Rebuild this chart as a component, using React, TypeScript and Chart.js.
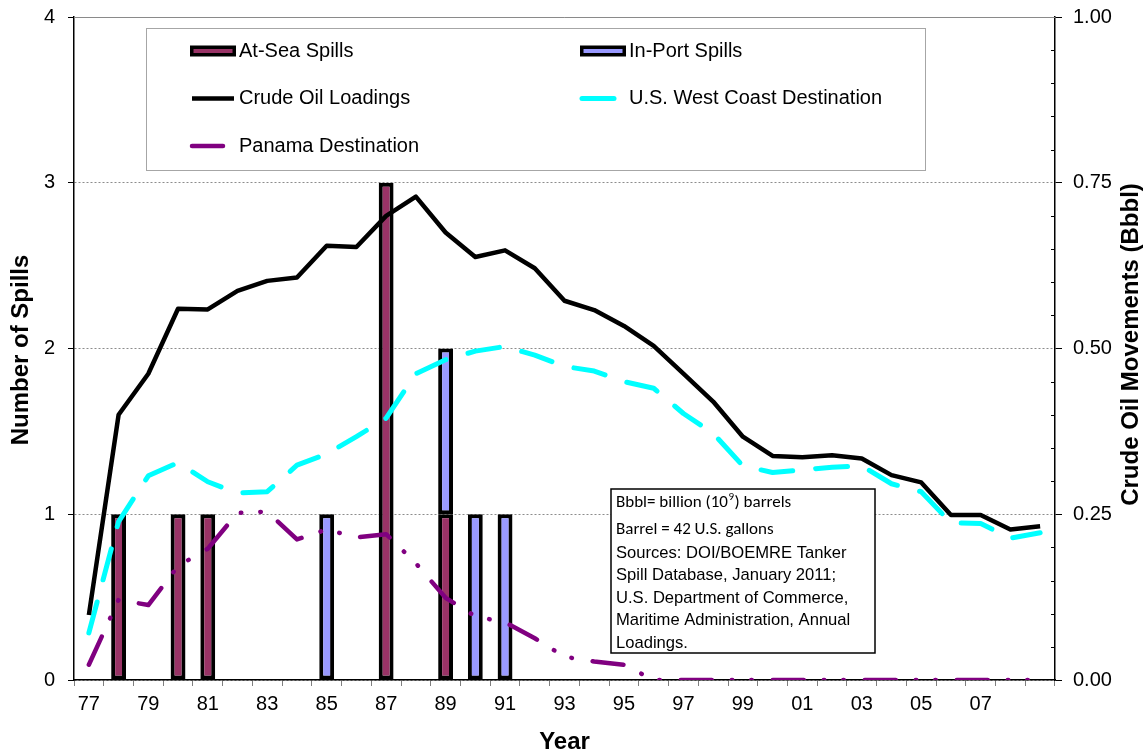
import React, { useEffect, useRef } from 'react';
import { Chart, registerables } from 'chart.js';

Chart.register(...registerables);

// ---------------- data ----------------
const years = [
  '77', '78', '79', '80', '81', '82', '83', '84', '85', '86', '87',
  '88', '89', '90', '91', '92', '93', '94', '95', '96', '97', '98',
  '99', '00', '01', '02', '03', '04', '05', '06', '07', '08', '09',
];

const xTickLabels = ['77', '79', '81', '83', '85', '87', '89', '91', '93', '95', '97', '99', '01', '03', '05', '07'];

// Number of spills (left axis)
const atSeaSpills = [
  null, 1, null, 1, 1, null, null, null, null, null, 3,
  null, 1, null, null, null, null, null, null, null, null, null,
  null, null, null, null, null, null, null, null, null, null, null,
];
const inPortSpills = [
  null, null, null, null, null, null, null, null, 1, null, null,
  null, 1, 1, 1, null, null, null, null, null, null, null,
  null, null, null, null, null, null, null, null, null, null, null,
];

// Crude oil movements, Bbbl (right axis)
const crudeOilLoadings = [
  0.098, 0.40, 0.462, 0.56, 0.559, 0.587, 0.602, 0.607, 0.655, 0.653, 0.70,
  0.729, 0.675, 0.638, 0.648, 0.621, 0.572, 0.558, 0.534, 0.504, 0.462, 0.42,
  0.367, 0.338, 0.336, 0.339, 0.334, 0.309, 0.298, 0.249, 0.249, 0.227, 0.232,
];
const westCoastDestination = [
  0.071, 0.239, 0.308, 0.328, 0.299, 0.282, 0.284, 0.324, 0.341, 0.367, 0.395,
  0.462, 0.483, 0.496, 0.503, 0.49, 0.473, 0.466, 0.45, 0.44, 0.402, 0.372,
  0.323, 0.313, 0.317, 0.321, 0.323, 0.296, 0.284, 0.237, 0.236, 0.214, 0.222,
];
const panamaDestination = [
  0.023, 0.121, 0.113, 0.172, 0.198, 0.252, 0.254, 0.212, 0.227, 0.215, 0.22,
  0.176, 0.124, 0.096, 0.087, 0.063, 0.035, 0.028, 0.023, 0, 0, 0,
  0, 0, 0, 0, 0, 0, 0, 0, 0, 0, 0,
];

const seriesLabels = ['At-Sea Spills', 'In-Port Spills', 'Crude Oil Loadings', 'U.S. West Coast Destination', 'Panama Destination'];

const leftAxisTitle = 'Number of Spills';
const rightAxisTitle = 'Crude Oil Movements (Bbbl)';
const xAxisTitle = 'Year';

const noteLine1 = ['Bbbl= billion (10', '9', ') barrels'];
const noteLine2 = 'Barrel = 42 U.S. gallons';
const noteSources = [
  'Sources: DOI/BOEMRE Tanker',
  'Spill Database, January 2011;',
  'U.S. Department of Commerce,',
  'Maritime Administration, Annual',
  'Loadings.',
];

// ---------------- styling ----------------
const SANS = "'Liberation Sans', Arial, Helvetica, sans-serif";
const CALIBRI = "Carlito, Lato, 'Open Sans', sans-serif";

const overlayPlugin = {
  id: 'overlay',
  afterDraw(chart: any) {
    const { ctx, chartArea: ca, scales } = chart;
    const y1 = scales.y1;
    ctx.save();

    // top plot border
    ctx.strokeStyle = '#8a8a8a';
    ctx.lineWidth = 1;
    ctx.setLineDash([]);
    ctx.beginPath();
    ctx.moveTo(ca.left, Math.round(ca.top) + 0.5);
    ctx.lineTo(ca.right, Math.round(ca.top) + 0.5);
    ctx.stroke();

    // right axis minor ticks (inside)
    ctx.strokeStyle = '#000';
    ctx.lineWidth = 1;
    for (let i = 1; i < 20; i++) {
      if (i % 5 === 0) continue;
      const py = Math.round(y1.getPixelForValue(i * 0.05)) + 0.5;
      ctx.beginPath();
      ctx.moveTo(ca.right - 4, py);
      ctx.lineTo(ca.right, py);
      ctx.stroke();
    }

    // axis titles
    ctx.fillStyle = '#000';
    ctx.font = `bold 24px ${SANS}`;
    ctx.textAlign = 'center';
    ctx.textBaseline = 'middle';
    ctx.fillText(xAxisTitle, (ca.left + ca.right) / 2, ca.bottom + 62);

    ctx.save();
    ctx.translate(21.5, (ca.top + ca.bottom) / 2 + 1.5);
    ctx.rotate(-Math.PI / 2);
    ctx.fillText(leftAxisTitle, 0, 0);
    ctx.restore();

    ctx.save();
    ctx.translate(ca.right + 76, (ca.top + ca.bottom) / 2 - 4);
    ctx.rotate(-Math.PI / 2);
    ctx.fillText(rightAxisTitle, 0, 0);
    ctx.restore();

    // legend box
    const lx = 146, ly = 28, lw = 779, lh = 142;
    ctx.fillStyle = '#fff';
    ctx.fillRect(lx, ly, lw, lh);
    ctx.strokeStyle = '#a6a6a6';
    ctx.lineWidth = 1;
    ctx.strokeRect(lx + 0.5, ly + 0.5, lw, lh);

    const colX = [190, 580];
    const rowY = [51, 98.5, 146];
    const symW = 46;
    chart.data.datasets.forEach((ds: any, i: number) => {
      const x = colX[i % 2];
      const y = rowY[Math.floor(i / 2)];
      ctx.save();
      if (ds.type === 'bar') {
        const h = 11, b = 3.5;
        ctx.fillStyle = ds.borderColor;
        ctx.fillRect(x, y - h / 2, symW, h);
        ctx.fillStyle = ds.backgroundColor;
        ctx.fillRect(x + b, y - h / 2 + b, symW - 2 * b, h - 2 * b);
      } else {
        ctx.strokeStyle = ds.borderColor;
        ctx.lineWidth = ds.borderWidth;
        ctx.lineCap = ds.borderCapStyle || 'butt';
        ctx.setLineDash(ds.borderDash || []);
        ctx.beginPath();
        ctx.moveTo(x + 2, y);
        ctx.lineTo(x + symW - 2, y);
        ctx.stroke();
      }
      ctx.restore();
      ctx.fillStyle = '#000';
      ctx.font = `20px ${SANS}`;
      ctx.textAlign = 'left';
      ctx.textBaseline = 'middle';
      ctx.fillText(ds.label, x + 49, y);
    });

    // note box
    const nx = 611, ny = 489, nw = 264, nh = 164;
    ctx.fillStyle = '#fff';
    ctx.fillRect(nx, ny, nw, nh);
    ctx.strokeStyle = '#000';
    ctx.lineWidth = 1.5;
    ctx.strokeRect(nx, ny, nw, nh);

    ctx.fillStyle = '#000';
    ctx.textAlign = 'left';
    ctx.textBaseline = 'middle';
    const tx = nx + 5;
    ctx.font = `17px ${CALIBRI}`;
    let cx = tx;
    ctx.fillText(noteLine1[0], cx, ny + 14);
    cx += ctx.measureText(noteLine1[0]).width;
    ctx.font = `11px ${CALIBRI}`;
    ctx.fillText(noteLine1[1], cx + 0.5, ny + 8);
    cx += ctx.measureText(noteLine1[1]).width + 1;
    ctx.font = `17px ${CALIBRI}`;
    ctx.fillText(noteLine1[2], cx, ny + 14);
    ctx.fillText(noteLine2, tx, ny + 41);

    ctx.font = `16.6px ${SANS}`;
    noteSources.forEach((line, i) => {
      ctx.fillText(line, tx, ny + 64 + i * 22.6);
    });

    ctx.restore();
  },
};

export default function App() {
  const canvasRef = useRef<HTMLCanvasElement | null>(null);

  useEffect(() => {
    document.body.style.margin = '0';
    const canvas = canvasRef.current;
    if (!canvas) return;

    Chart.defaults.font.family = SANS;
    Chart.defaults.color = '#000';

    const chart = new Chart(canvas, {
      data: {
        labels: years,
        datasets: [
          {
            type: 'bar',
            label: seriesLabels[0],
            data: atSeaSpills,
            backgroundColor: '#993366',
            borderColor: '#000000',
            borderWidth: 4,
            borderSkipped: false,
            stack: 'spills',
            yAxisID: 'y',
            order: 2,
            barPercentage: 0.5,
            categoryPercentage: 1,
          },
          {
            type: 'bar',
            label: seriesLabels[1],
            data: inPortSpills,
            backgroundColor: '#9999FF',
            borderColor: '#000000',
            borderWidth: 4,
            borderSkipped: false,
            stack: 'spills',
            yAxisID: 'y',
            order: 2,
            barPercentage: 0.5,
            categoryPercentage: 1,
          },
          {
            type: 'line',
            label: seriesLabels[2],
            data: crudeOilLoadings,
            borderColor: '#000000',
            borderWidth: 4.5,
            borderJoinStyle: 'round',
            borderCapStyle: 'butt',
            pointRadius: 0,
            tension: 0,
            fill: false,
            yAxisID: 'y1',
            order: 1,
          },
          {
            type: 'line',
            label: seriesLabels[3],
            data: westCoastDestination,
            borderColor: '#00FFFF',
            borderWidth: 5,
            borderDash: [32, 23],
            borderJoinStyle: 'round',
            borderCapStyle: 'round',
            pointRadius: 0,
            tension: 0,
            fill: false,
            yAxisID: 'y1',
            order: 1,
          },
          {
            type: 'line',
            label: seriesLabels[4],
            data: panamaDestination,
            borderColor: '#800080',
            borderWidth: 4.5,
            borderDash: [31, 20, 0.5, 19, 0.5, 21],
            borderJoinStyle: 'round',
            borderCapStyle: 'round',
            pointRadius: 0,
            tension: 0,
            fill: false,
            yAxisID: 'y1',
            order: 1,
          },
        ],
      } as any,
      options: {
        responsive: false,
        animation: false,
        devicePixelRatio: 1,
        layout: { padding: { top: 17, left: 0, right: 0, bottom: 0 } },
        plugins: {
          legend: { display: false },
          tooltip: { enabled: false },
          title: { display: false },
        },
        scales: {
          x: {
            type: 'category',
            offset: true,
            grid: {
              offset: true,
              drawOnChartArea: false,
              drawTicks: true,
              tickLength: 6,
              color: '#7f7f7f',
              tickColor: '#7f7f7f',
            },
            border: { color: '#000', width: 1.5 },
            ticks: {
              autoSkip: false,
              maxRotation: 0,
              minRotation: 0,
              padding: 6,
              color: '#000',
              font: { size: 20, family: SANS },
              callback: (_v: any, i: number) => (xTickLabels.includes(years[i]) ? years[i] : ''),
            },
            afterFit: (s: any) => {
              s.height = 75;
              s.paddingLeft = 0;
              s.paddingRight = 0;
            },
          },
          y: {
            position: 'left',
            stacked: true,
            min: 0,
            max: 4,
            ticks: {
              stepSize: 1,
              padding: 13,
              color: '#000',
              font: { size: 20, family: SANS },
            },
            grid: {
              color: '#8c8c8c',
              lineWidth: 1,
              tickColor: '#000',
              tickLength: 6,
            },
            border: { color: '#000', width: 1.5, dash: [2, 2] },
            afterFit: (s: any) => {
              s.width = 74;
              s.paddingTop = 0;
              s.paddingBottom = 0;
            },
          },
          y1: {
            position: 'right',
            min: 0,
            max: 1,
            ticks: {
              stepSize: 0.25,
              padding: 11,
              color: '#000',
              font: { size: 20, family: SANS },
              callback: (v: any) => Number(v).toFixed(2),
            },
            grid: {
              drawOnChartArea: false,
              tickColor: '#000',
              tickLength: 7,
            },
            border: { color: '#000', width: 1.5 },
            afterFit: (s: any) => {
              s.width = 91;
              s.paddingTop = 0;
              s.paddingBottom = 0;
            },
          },
        },
      } as any,
      plugins: [overlayPlugin],
    });

    return () => {
      chart.destroy();
    };
  }, []);

  return (
    <div style={{ width: 1146, height: 755, position: 'relative' }}>
      <canvas ref={canvasRef} width={1146} height={755} style={{ display: 'block' }} />
    </div>
  );
}
